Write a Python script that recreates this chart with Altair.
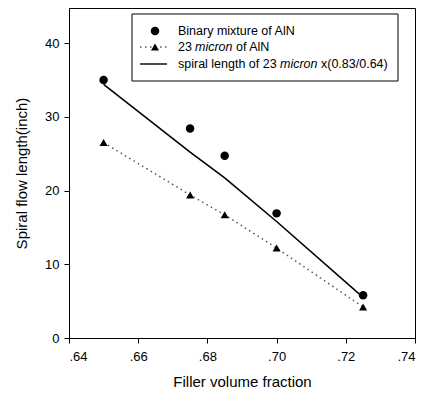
import altair as alt
import pandas as pd

# Data
fraction = [0.65, 0.675, 0.685, 0.70, 0.725]
binary_mixture = [35.0, 28.4, 24.7, 16.9, 5.8]
micron23 = [26.5, 19.4, 16.7, 12.2, 4.2]
spiral_scaled = [34.4, 25.2, 21.7, 15.8, 5.5]

x_ticks = [0.64, 0.66, 0.68, 0.70, 0.72, 0.74]
y_ticks = [0, 10, 20, 30, 40]

df = pd.DataFrame({
    "fraction": fraction,
    "binary": binary_mixture,
    "m23": micron23,
    "spiral": spiral_scaled,
})

FONT = "Liberation Sans"

xscale = alt.Scale(domain=[0.64, 0.74], nice=False, zero=False)
yscale = alt.Scale(domain=[0, 44.75], nice=False)

xaxis = alt.Axis(
    title="Filler volume fraction", values=x_ticks,
    labelExpr="replace(format(datum.value, '.2f'), '0.', '.')",
    grid=False, tickSize=5, labelPadding=7, titlePadding=11,
    labelFontSize=13, titleFontSize=15, labelFont=FONT, titleFont=FONT,
    domainColor="black", tickColor="black", labelColor="black", titleColor="black",
    titleFontWeight="normal",
)
yaxis = alt.Axis(
    title="Spiral flow length(inch)", values=y_ticks,
    grid=False, tickSize=5, labelPadding=5, titlePadding=15,
    labelFontSize=13, titleFontSize=15, labelFont=FONT, titleFont=FONT,
    domainColor="black", tickColor="black", labelColor="black", titleColor="black",
    titleFontWeight="normal",
)

base = alt.Chart(df)
x = alt.X("fraction:Q", scale=xscale, axis=xaxis)

dotted = base.mark_line(color="#555555", strokeDash=[1.5, 3.5], strokeWidth=1.5).encode(
    x=x, y=alt.Y("m23:Q", scale=yscale, axis=yaxis))
solid = base.mark_line(color="black", strokeWidth=1.6).encode(
    x=x, y=alt.Y("spiral:Q", scale=yscale))
circles = base.mark_point(shape="circle", filled=True, color="black", size=72, opacity=1).encode(
    x=x, y=alt.Y("binary:Q", scale=yscale))
triangles = base.mark_point(shape="triangle-up", filled=True, color="black", size=65, opacity=1).encode(
    x=x, y=alt.Y("m23:Q", scale=yscale))

# Manual legend (positions in pixels inside the plot area)
one = alt.Chart(pd.DataFrame({"a": [0]}))
box = one.mark_rect(fill="white", stroke="black", strokeWidth=1).encode(
    x=alt.value(63), x2=alt.value(329), y=alt.value(6), y2=alt.value(73))
leg_circle = one.mark_point(shape="circle", filled=True, color="black", size=72, opacity=1).encode(
    x=alt.value(86), y=alt.value(23))
leg_dots = one.mark_rule(color="#555555", strokeDash=[1.5, 3.5], strokeWidth=1.5).encode(
    x=alt.value(71), x2=alt.value(98), y=alt.value(39))
leg_tri = one.mark_point(shape="triangle-up", filled=True, color="black", size=65, opacity=1).encode(
    x=alt.value(86), y=alt.value(39))
leg_line = one.mark_rule(color="black", strokeWidth=1.4).encode(
    x=alt.value(71), x2=alt.value(98), y=alt.value(56))


def txt(s, xp, yp, italic=False):
    return one.mark_text(
        align="left", baseline="middle", fontSize=12.5, font=FONT, color="black",
        fontStyle="italic" if italic else "normal",
    ).encode(x=alt.value(xp), y=alt.value(yp), text=alt.value(s))


texts = [
    txt("Binary mixture of AlN", 109, 23),
    txt("23", 109, 39),
    txt("micron", 126, 39, italic=True),
    txt("of AlN", 167, 39),
    txt("spiral length of 23", 109, 56),
    txt("micron", 211, 56, italic=True),
    txt("x(0.83/0.64)", 252, 56),
]

chart = alt.layer(dotted, solid, circles, triangles, box, leg_circle, leg_dots, leg_tri, leg_line, *texts).properties(
    width=346, height=330,
    autosize=alt.AutoSizeParams(type="none"),
    padding={"left": 61, "top": 0, "right": 3, "bottom": 55},
    background="white",
).configure_view(stroke="black", strokeWidth=1)

chart.save("out.html", embed_options={"renderer": "svg", "actions": False})
